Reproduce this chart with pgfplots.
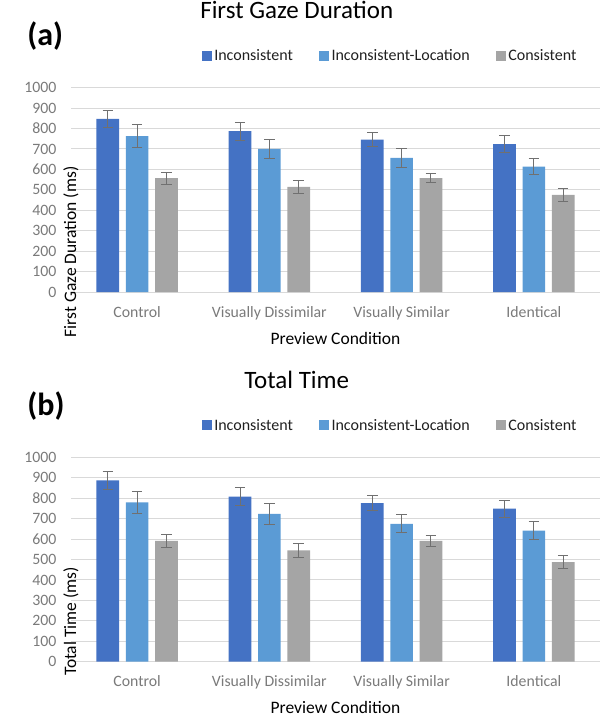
\documentclass[border=0pt]{standalone}
\usepackage{fontspec}
\setmainfont{Carlito}
\usepackage{pgfplots}
\usepackage{pgfplotstable}
\pgfplotsset{compat=1.18}
\definecolor{cInc}{HTML}{4472C4}
\definecolor{cLoc}{HTML}{5B9BD5}
\definecolor{cCon}{HTML}{A5A5A5}
\definecolor{cGrid}{HTML}{D9D9D9}
\definecolor{cTick}{HTML}{7A7A7A}
\definecolor{cErr}{HTML}{707070}
\definecolor{cLeg}{HTML}{202020}

\pgfplotstableread{
x Inc IncE Loc LocE Con ConE
0 848 41 763 57 557 30
1 787 45 700 47 515 32
2 746 36 657 46 557 21
3 724 40 614 41 475 31
}\fgdtable

\pgfplotstableread{
x Inc IncE Loc LocE Con ConE
0 887 42 780 55 591 32
1 808 44 724 50 545 35
2 776 38 675 44 591 25
3 749 41 642 44 487 33
}\tottable

\pgfplotsset{
 mychart/.style={
   scale only axis, width=529bp, height=204.3bp,
   xmin=-0.5, xmax=3.5, ymin=0, ymax=1000,
   ytick={0,100,...,1000}, xtick={0,1,2,3},
   xticklabels={Control, Visually Dissimilar, Visually Similar, Identical},
   ybar, bar width=22.7bp,
   axis line style={draw=none},
   major tick length=0pt,
   ymajorgrids, grid style={cGrid, line width=1bp},
   tick label style={font=\fontsize{15.8bp}{18bp}\selectfont, text=cTick, inner sep=0pt},
   /pgf/number format/assume math mode=true,
   /pgf/number format/1000 sep={},
   yticklabel style={anchor=east, xshift=-14.3bp},
   xticklabel style={anchor=base, yshift=-25bp},
   label style={font=\fontsize{17.5bp}{20bp}\selectfont, inner sep=0pt},
   xlabel={Preview Condition},
   xlabel style={at={(axis description cs:0.5,0)}, anchor=base, yshift=-52bp},
   ylabel style={at={(axis description cs:0,0.5)}, anchor=center, xshift=-62bp},
   every axis title shift=0pt,
   title style={at={(axis description cs:0.4267,1.3363)}, anchor=base, font=\fontsize{25bp}{28bp}\selectfont, inner sep=0pt},
   legend columns=3,
   legend style={at={(axis description cs:0.247,1.1566)}, anchor=west, draw=none, fill=none, inner sep=0pt, outer sep=0pt,
     font=\fontsize{16bp}{18bp}\selectfont,
     /tikz/every odd column/.append style={column sep=2.6bp},
     /tikz/every even column/.append style={column sep=26bp},
     nodes={inner sep=0pt, text=cLeg}},
   legend image code/.code={\path[##1, draw=none] (0bp,-5bp) rectangle (10bp,5bp);},
   error bars/y dir=both, error bars/y explicit,
   error bars/error bar style={draw=cErr, line width=1bp},
   error bars/error mark options={rotate=90, draw=cErr, mark size=5.3bp, line width=1bp},
 }
}

\begin{document}
\begin{tikzpicture}
\useasboundingbox (0,0) rectangle (602bp,-717bp);
\node[font=\bfseries\fontsize{32bp}{34bp}\selectfont, inner sep=0pt] at (45.3bp,-36.3bp) {(a)};
\node[font=\bfseries\fontsize{32bp}{34bp}\selectfont, inner sep=0pt] at (46bp,-405.9bp) {(b)};

\begin{axis}[mychart, at={(71bp,-292bp)}, anchor=south west,
  title={First Gaze Duration}, ylabel={First Gaze Duration (ms)}]
\addplot[fill=cInc, draw=none, bar shift=-29.3bp] table[x=x, y=Inc, y error=IncE] {\fgdtable};
\addplot[fill=cLoc, draw=none, bar shift=0bp] table[x=x, y=Loc, y error=LocE] {\fgdtable};
\addplot[fill=cCon, draw=none, bar shift=29.3bp] table[x=x, y=Con, y error=ConE] {\fgdtable};
\legend{Inconsistent, Inconsistent-Location, Consistent}
\end{axis}

\begin{axis}[mychart, at={(71bp,-661.7bp)}, anchor=south west,
  title={Total Time}, ylabel={Total Time (ms)}]
\addplot[fill=cInc, draw=none, bar shift=-29.3bp] table[x=x, y=Inc, y error=IncE] {\tottable};
\addplot[fill=cLoc, draw=none, bar shift=0bp] table[x=x, y=Loc, y error=LocE] {\tottable};
\addplot[fill=cCon, draw=none, bar shift=29.3bp] table[x=x, y=Con, y error=ConE] {\tottable};
\legend{Inconsistent, Inconsistent-Location, Consistent}
\end{axis}
\end{tikzpicture}
\end{document}
